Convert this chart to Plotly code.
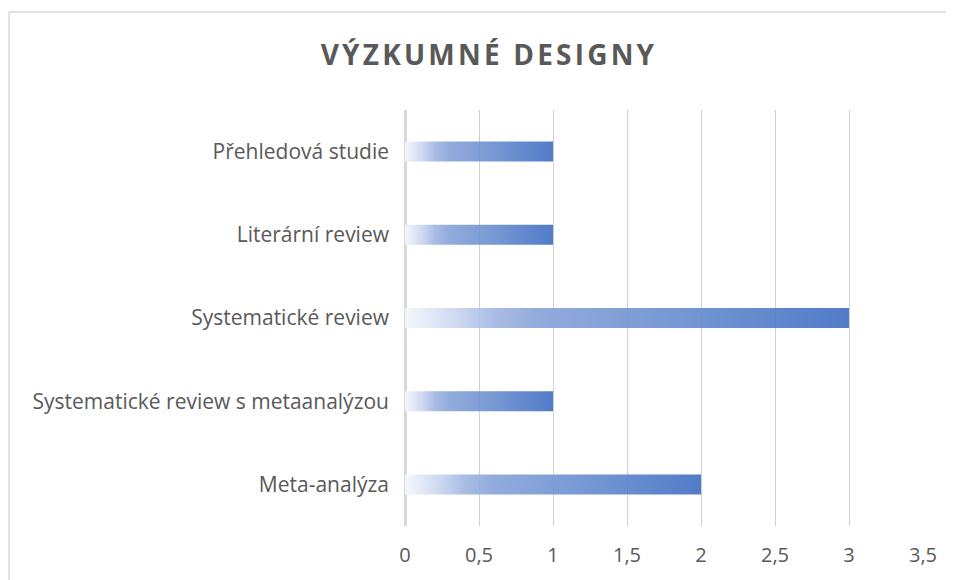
import plotly.graph_objects as go

categories = ["Přehledová studie", "Literární review", "Systematické review",
              "Systematické review s metaanalýzou", "Meta-analýza"]
values = [1, 1, 3, 1, 2]
x_ticks = [0, 0.5, 1, 1.5, 2, 2.5, 3, 3.5]
x_tick_labels = ["0", "0,5", "1", "1,5", "2", "2,5", "3", "3,5"]
title_text = "VÝZKUMNÉ DESIGNY"

half = 0.12
gradient = [[0.0, "#f4f7fc"], [0.12, "#c9d5ee"], [0.2, "#a3b8e2"],
            [0.3, "#8aa5da"], [0.6, "#6d91d0"], [1.0, "#4472c4"]]

# page has an 8px body margin; figure is sized/offset to compensate
W, H = 946, 572
L, R, T, B = 397, 31, 102, 54
pw, ph = W - L - R, H - T - B

fig = go.Figure()
for i, (cat, v) in enumerate(zip(categories, values)):
    y0, y1 = i - half, i + half
    fig.add_trace(go.Scatter(
        x=[0, v, v, 0, 0], y=[y0, y0, y1, y1, y0],
        mode="lines", line=dict(width=0), fill="toself",
        fillgradient=dict(type="horizontal", colorscale=gradient),
        opacity=0.93, name=cat, showlegend=False, hoverinfo="skip"))

fig.update_layout(
    width=W, height=H,
    margin=dict(l=L, r=R, t=T, b=B),
    paper_bgcolor="white", plot_bgcolor="white",
    title=dict(text='<span style="letter-spacing:3.2px">' + title_text + '</span>',
               x=481 / W, xanchor="center", y=1 - 47 / H, yanchor="middle",
               font=dict(family="Open Sans", size=28, color="#595959", weight="bold")),
    xaxis=dict(range=[0, 3.5], tickvals=x_ticks, ticktext=x_tick_labels,
               showgrid=True, gridcolor="#d0d0d0", gridwidth=1.3,
               zeroline=True, zerolinecolor="#d9d9d9", zerolinewidth=3,
               showline=False, ticks="", ticklabelstandoff=15,
               tickfont=dict(family="Open Sans", size=20, color="#595959")),
    yaxis=dict(range=[4.5, -0.5], tickvals=list(range(len(categories))), ticktext=categories,
               showgrid=False, zeroline=False, showline=False, ticks="",
               ticklabelstandoff=15,
               tickfont=dict(family="Open Sans", size=21, color="#595959")),
)
fig.add_shape(type="line", xref="paper", yref="paper",
              x0=-(L - 1) / pw, x1=1.2, y0=1 + (T - 4) / ph, y1=1 + (T - 4) / ph,
              line=dict(color="#d9d9d9", width=1.5))
fig.add_shape(type="line", xref="paper", yref="paper",
              x0=-(L - 1) / pw, x1=-(L - 1) / pw, y0=-0.3, y1=1 + (T - 4) / ph,
              line=dict(color="#d9d9d9", width=1.5))
fig.write_html("out.html")
